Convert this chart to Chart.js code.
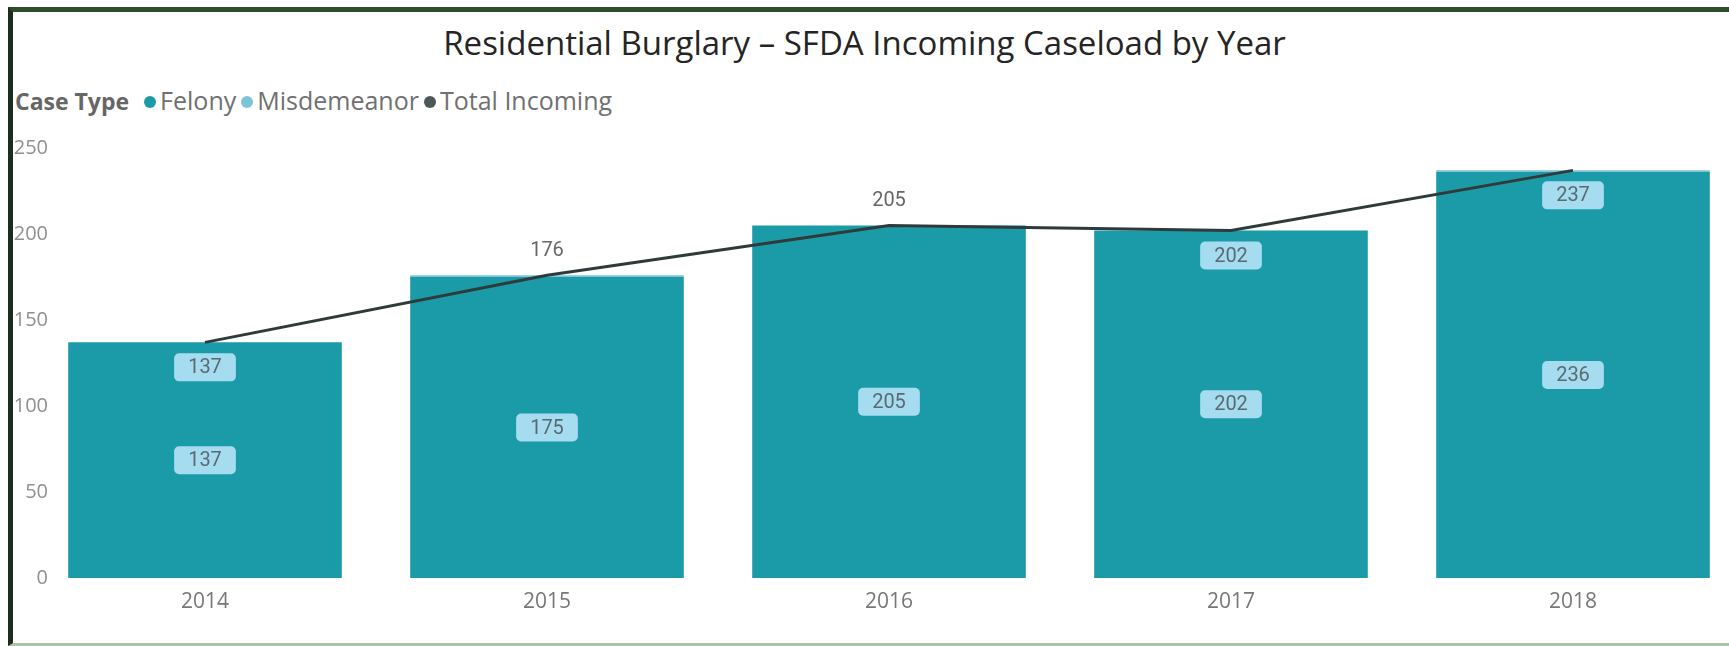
<!DOCTYPE html>
<html lang="en">
<head>
    <meta charset="UTF-8">
    <title>Residential Burglary – SFDA Incoming Caseload by Year</title>
    <script src="https://cdn.jsdelivr.net/npm/chart.js"></script>
    <style>
        html, body {
            margin: 0;
            padding: 0;
            background-color: #fff;
            overflow: hidden;
            width: 1729px;
            height: 646px;
        }
        .frame {
            position: absolute;
            left: 8px;
            top: 7px;
            width: 1721px;
            height: 639px;
            box-sizing: border-box;
            border-top: 5px solid #2e4d2c;
            border-left: 5px solid #1f2b1f;
            border-bottom: 3px solid #a9c3a6;
        }
        .title {
            position: absolute;
            left: 0;
            top: 23px;
            width: 1729px;
            text-align: center;
            font-family: "Open Sans", sans-serif;
            font-size: 33px;
            line-height: 40px;
            color: #252525;
        }
        .legend {
            position: absolute;
            left: 15px;
            top: 85px;
            height: 30px;
            line-height: 30px;
            font-family: "Open Sans", sans-serif;
            font-size: 25px;
            color: #707070;
            white-space: nowrap;
        }
        .legend b {
            font-size: 23px;
            color: #666;
            margin-right: 10px;
        }
        .legend .dot {
            display: inline-block;
            width: 12px;
            height: 12px;
            border-radius: 50%;
            margin: 0 4px 0 5px;
            vertical-align: 2px;
        }
        .chart-box {
            position: absolute;
            left: 0;
            top: 0;
            width: 1752px;
            height: 646px;
        }
    </style>
</head>
<body>
    <div class="frame"></div>
    <div class="title">Residential Burglary – SFDA Incoming Caseload by Year</div>
    <div class="legend"><b>Case Type</b><span class="dot" style="background:#1c9aa8"></span>Felony<span class="dot" style="background:#7ec3d6"></span>Misdemeanor<span class="dot" style="background:#4b5858"></span>Total Incoming</div>
    <div class="chart-box">
        <canvas id="caseloadChart"></canvas>
    </div>
    <script>
        // data
        const years = ['2014', '2015', '2016', '2017', '2018'];
        const felony = [137, 175, 205, 202, 236];
        const misdemeanor = [0, 1, 0, 0, 1];
        const totalIncoming = [137, 176, 205, 202, 237];
        const yTicks = [0, 50, 100, 150, 200, 250];

        // where the total label sits relative to the line point
        const totalLabelSide = ['below', 'above', 'above', 'below', 'below'];

        const labelFont = '20px Roboto, sans-serif';

        function roundBox(ctx, x, y, w, h, r) {
            ctx.beginPath();
            ctx.moveTo(x + r, y);
            ctx.arcTo(x + w, y, x + w, y + h, r);
            ctx.arcTo(x + w, y + h, x, y + h, r);
            ctx.arcTo(x, y + h, x, y, r);
            ctx.arcTo(x, y, x + w, y, r);
            ctx.closePath();
            ctx.fill();
        }

        function drawLabel(ctx, text, cx, cy, boxed) {
            ctx.font = labelFont;
            const w = ctx.measureText(text).width + 28;
            const h = 28;
            if (boxed) {
                ctx.fillStyle = '#a6dcf0';
                roundBox(ctx, cx - w / 2, cy - h / 2, w, h, 5);
            }
            ctx.fillStyle = boxed ? '#5b6a70' : '#666';
            ctx.textAlign = 'center';
            ctx.textBaseline = 'middle';
            ctx.fillText(text, cx, cy + 1);
        }

        // data labels like the Power BI ones
        const labelPlugin = {
            id: 'caseLabels',
            afterDatasetsDraw(chart) {
                const ctx = chart.ctx;
                const felonyMeta = chart.getDatasetMeta(0);
                const misdMeta = chart.getDatasetMeta(1);
                const totalMeta = chart.getDatasetMeta(2);
                ctx.save();
                felonyMeta.data.forEach((bar, i) => {
                    const cy = (bar.y + bar.base) / 2;
                    drawLabel(ctx, String(felony[i]), bar.x, cy, true);
                });
                totalMeta.data.forEach((pt, i) => {
                    const cy = totalLabelSide[i] === 'above' ? pt.y - 25 : pt.y + 25;
                    const stackTop = misdMeta.data[i].y;
                    drawLabel(ctx, String(totalIncoming[i]), pt.x, cy, cy - 14 > stackTop);
                });
                ctx.restore();
            }
        };

        const ctx = document.getElementById('caseloadChart').getContext('2d');
        const caseloadChart = new Chart(ctx, {
            data: {
                labels: years,
                datasets: [{
                    type: 'bar',
                    label: 'Felony',
                    data: felony,
                    backgroundColor: '#1b9ba8',
                    stack: 'cases',
                    order: 1
                }, {
                    type: 'bar',
                    label: 'Misdemeanor',
                    data: misdemeanor,
                    backgroundColor: '#7ec3d6',
                    stack: 'cases',
                    order: 1
                }, {
                    type: 'line',
                    label: 'Total Incoming',
                    data: totalIncoming,
                    borderColor: '#2f3b3b',
                    borderWidth: 3,
                    pointRadius: 0,
                    fill: false,
                    tension: 0,
                    stack: 'total',
                    order: 0
                }]
            },
            options: {
                responsive: true,
                maintainAspectRatio: false,
                animation: false,
                categoryPercentage: 0.8,
                barPercentage: 1,
                layout: {
                    padding: { top: 148, left: 14, right: 8, bottom: 22 }
                },
                plugins: {
                    legend: { display: false },
                    title: { display: false },
                    tooltip: { enabled: false }
                },
                scales: {
                    x: {
                        stacked: true,
                        grid: { display: false, drawTicks: false },
                        border: { display: false },
                        ticks: {
                            padding: 11,
                            color: '#777',
                            font: { family: 'Open Sans', size: 21 }
                        },
                        afterFit(scale) { scale.height = 46; }
                    },
                    y: {
                        stacked: true,
                        min: yTicks[0],
                        max: yTicks[yTicks.length - 1],
                        grid: { display: false, drawTicks: false },
                        border: { display: false },
                        afterBuildTicks(scale) {
                            scale.ticks = yTicks.map(v => ({ value: v }));
                        },
                        ticks: {
                            padding: -14,
                            color: '#8f8f8f',
                            font: { family: 'Open Sans', size: 20 }
                        },
                        afterFit(scale) {
                            scale.width = 20;
                            // labels reach into the plot like in Power BI, so don't clip them
                            scale._computeLabelArea = () => undefined;
                        }
                    }
                }
            },
            plugins: [labelPlugin]
        });
    </script>
</body>
</html>
